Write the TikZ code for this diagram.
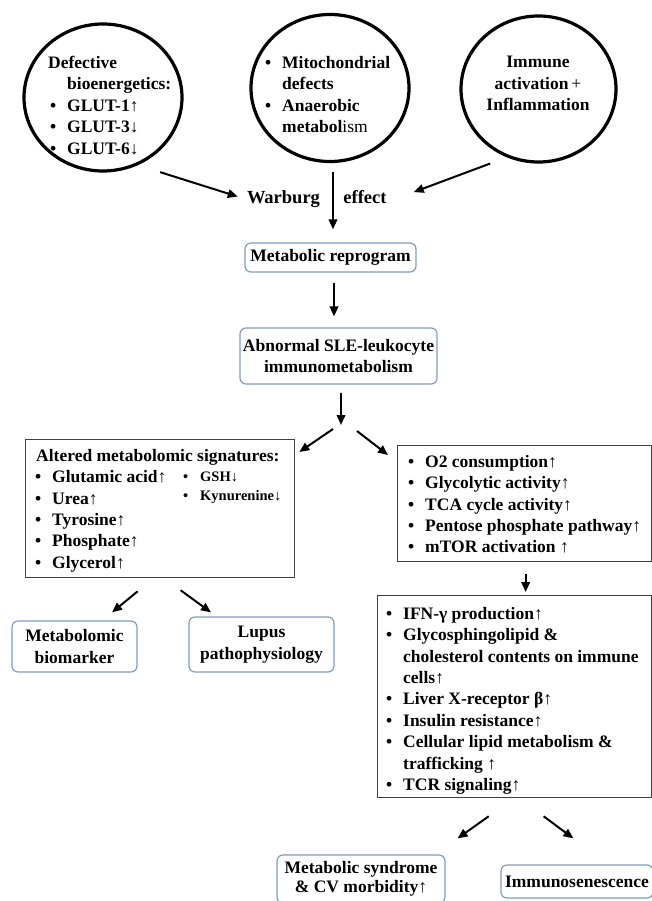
\documentclass[tikz,border=0pt]{standalone}
\usepackage{fontspec}
\setmainfont{Liberation Serif}
\usetikzlibrary{arrows.meta,shapes.geometric}

\definecolor{boxblue}{RGB}{128,158,188}
\definecolor{boxgray}{RGB}{64,64,64}
\newcommand{\itm}{\makebox[17pt][l]{\textbullet}}
\newcommand{\incr}{\textmd{↑}}
\newcommand{\decr}{\textmd{↓}}

\tikzset{
  every node/.style={font=\fontsize{17.5}{21.4}\selectfont\bfseries, inner sep=0pt},
  ring/.style={ellipse, draw, line width=3.2pt},
  roundbox/.style={draw=boxblue, line width=1.2pt, rounded corners=6pt, align=center},
  listbox/.style={draw=boxgray, line width=1.3pt, anchor=north west},
  listtext/.style={anchor=north west, align=left},
  bigtext/.style={anchor=base, font=\fontsize{18.5}{22}\selectfont\bfseries},
  arr/.style={-{Triangle[length=10pt,width=8.5pt]}, line width=2pt},
}

\begin{document}
\begin{tikzpicture}[x=1pt,y=-1pt]
            \useasboundingbox (0,0) rectangle (652,901);%

            % Drawing circle of bioenergetics
            \node [ring, minimum width=158pt, minimum height=147pt] (defcirc) at (103,97.5) {};%
            \node [listtext] (deftext) at (48,56) {Defective\\\hspace*{19pt}bioenergetics:\\\hspace*{2pt}\itm GLUT-1\incr\\\hspace*{2pt}\itm GLUT-3\decr\\\hspace*{2pt}\itm GLUT-6\decr};%

            % Drawing circle of mitochondria
            \node [ring, minimum width=158pt, minimum height=147pt] (mitocirc) at (330,88) {};%
            \node [listtext] (mitotext) at (265,56) {\itm Mitochondrial\\\hspace*{17pt}defects\\\itm Anaerobic\\\hspace*{17pt}metabol\textmd{ism}};%

            % Drawing circle of immune activation
            \node [ring, minimum width=155pt, minimum height=146pt] (immcirc) at (538.5,89) {};%
            \node [anchor=north, align=center] (immtext) at (538,56) {Immune\\activation\,\textmd{+}\\Inflammation};%

            % Warburg effect
            \node [bigtext] (warburg) at (283.5,204) {Warburg};%
            \node [bigtext] (effect) at (365,204) {effect};%

            % Reprogram and immunometabolism
            \node [roundbox, minimum width=171pt, minimum height=29pt] (reprog) at (330.5,257.5) {Metabolic reprogram};%
            \node [roundbox, minimum width=197pt, minimum height=56pt] (abnormal) at (338.5,356) {Abnormal SLE-leukocyte\\immunometabolism};%
            \coordinate (fork) at (341,428);%

            % Box of metabolomic signatures
            \node [listbox, minimum width=269pt, minimum height=138pt] (altered) at (25,439) {};%
            \node [listtext] (alteredtext) at (36,449) {Altered metabolomic signatures:\\\hspace*{-1pt}\itm Glutamic acid\incr\\\hspace*{-1pt}\itm Urea\incr\\\hspace*{-1pt}\itm Tyrosine\incr\\\hspace*{-1pt}\itm Phosphate\incr\\\hspace*{-1pt}\itm Glycerol\incr};%
            \node [listtext, font=\fontsize{14.5}{19}\selectfont\bfseries] (alteredtextb) at (183,472) {\itm GSH\decr\\\itm Kynurenine\decr};%

            % Biomarker and pathophysiology
            \node [roundbox, minimum width=125pt, minimum height=51pt] (biomarker) at (74.5,646.5) {Metabolomic\\biomarker};%
            \node [roundbox, minimum width=145pt, minimum height=55pt] (lupus) at (261.5,644.5) {Lupus\\pathophysiology};%

            % Box of metabolic activity
            \node [listbox, minimum width=254pt, minimum height=116pt] (o2box) at (397,445) {};%
            \node [listtext] (o2text) at (408,455) {\itm O2 consumption\incr\\\itm Glycolytic activity\incr\\\itm TCA cycle activity\incr\\\itm Pentose phosphate pathway\incr\\\itm mTOR activation \incr};%

            % Box of immune consequences
            \node [listbox, minimum width=274pt, minimum height=202pt] (ifnbox) at (377,595) {};%
            \node [listtext] (ifntext) at (386,607) {\itm IFN-γ production\incr\\\itm Glycosphingolipid \&\\\hspace*{17pt}cholesterol contents on immune\\\hspace*{17pt}cells\incr\\\itm Liver X-receptor β\incr\\\itm Insulin resistance\incr\\\itm Cellular lipid metabolism \&\\\hspace*{17pt}trafficking \incr\\\itm TCR signaling\incr};%

            % Outcomes
            \node [roundbox, minimum width=168pt, minimum height=48pt, font=\fontsize{17.5}{19}\selectfont\bfseries] (metsyn) at (361,879) {Metabolic syndrome\\\& CV morbidity\incr};%
            \node [roundbox, minimum width=152pt, minimum height=33pt] (immuno) at (577,881.5) {Immunosenescence};%

            % Drawing arrows
            \draw [arr] ([xshift=7.5pt,yshift=-15.5pt]defcirc.-50) -- ([xshift=-9pt,yshift=3pt]warburg.west);%
            \draw [arr] ([xshift=-10.5pt,yshift=-9pt]immcirc.240) -- ([xshift=27pt,yshift=5.5pt]effect.east);%
            \draw [arr] ([xshift=3pt,yshift=-9pt]mitocirc.south) -- ([xshift=2.5pt,yshift=13pt]reprog.north);%
            \draw [arr] ([xshift=3.5pt,yshift=-10pt]reprog.south) -- ([xshift=-4.5pt,yshift=11pt]abnormal.north);%
            \draw [arr] ([xshift=2.5pt,yshift=-8pt]abnormal.south) -- ([yshift=3pt]fork);%
            \draw [arr] ([xshift=-8pt,yshift=-1pt]fork) -- ([xshift=4pt,yshift=-13pt]altered.north east);%
            \draw [arr] ([xshift=16pt,yshift=-3pt]fork) -- ([xshift=-9pt,yshift=-10pt]o2box.north west);%
            \draw [arr] ([xshift=-22.5pt,yshift=-13pt]altered.south) -- ([xshift=37.5pt,yshift=8pt]biomarker.north);%
            \draw [arr] ([xshift=20.5pt,yshift=-12pt]altered.south) -- ([xshift=-50.5pt,yshift=4pt]lupus.north);%
            \draw [arr] ([xshift=1pt,yshift=-12pt]o2box.south) -- ([xshift=11pt,yshift=3pt]ifnbox.north);%
            \draw [arr] ([xshift=-26pt,yshift=-18pt]ifnbox.south) -- ([xshift=12pt,yshift=16pt]metsyn.north east);%
            \draw [arr] ([xshift=29pt,yshift=-18pt]ifnbox.south) -- ([xshift=73pt,yshift=26pt]immuno.north west);%
\end{tikzpicture}
\end{document}
